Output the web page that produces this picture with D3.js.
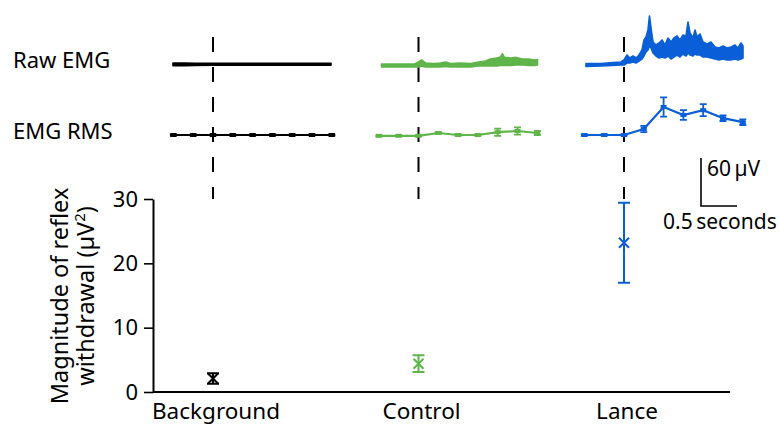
<!DOCTYPE html>
<html>
<head>
<meta charset="utf-8">
<script src="https://cdn.jsdelivr.net/npm/d3@7"></script>
<style>
  body { margin: 0; background: #fff; }
  text { font-family: "Noto Sans", "Open Sans", sans-serif; fill: #000; }
</style>
</head>
<body>
<script>
// categories and colours
const categories = ['Background', 'Control', 'Lance'];
const colors = ['#000000', '#5fb54a', '#0a5fd8'];

// reflex withdrawal magnitude (µV²), mean and error
const magnitudeMean = [2.1, 4.4, 23.2];
const magnitudeErr = [0.8, 1.3, 6.2];
const yTicks = [0, 10, 20, 30];

// EMG RMS (µV), time in s relative to stimulus
const rmsTimes = [-0.55, -0.275, 0, 0.275, 0.55, 0.825, 1.1, 1.375, 1.65];
const rmsBackground = [4, 4, 4, 4, 4, 4, 4, 4, 4];
const rmsBackgroundErr = [0.9, 0.9, 0.9, 0.9, 0.9, 0.9, 0.9, 0.9, 0.9];
const rmsControl = [3, 3, 3, 6.5, 4, 4, 7.5, 9, 6.5];
const rmsControlErr = [0.6, 0.6, 0.6, 1, 1, 1, 4.5, 4.5, 2.5];
const rmsLance = [4, 4, 4, 11.5, 39, 29, 35, 25, 20];
const rmsLanceErr = [0.6, 0.6, 0.6, 4, 12, 6, 7.5, 3.5, 3.5];

// raw EMG envelope: [time s, upper µV, lower µV]
const rawBackground = [
  [-0.556, 2.5, -0.8], [-0.389, 2.5, -0.8], [-0.25, 2.2, -0.5], [0, 2.2, -0.3],
  [0.375, 2.2, -0.3], [0.792, 2, -0.3], [1.208, 2.2, -0.3], [1.639, 2, -0.3]
];
const rawControl = [
  [-0.514, 1.3, -2.5], [-0.25, 1.3, -2.5], [-0.056, 1.3, -2.5], [0, 3.8, -2.5],
  [0.042, 6.3, -1.3], [0.097, 2.5, -2.5], [0.208, 1.9, -2.5], [0.306, 2.5, -2.5],
  [0.375, 3.8, -1.9], [0.444, 1.9, -2.5], [0.583, 2.5, -2.5], [0.722, 1.9, -2.5],
  [0.833, 3.8, -1.3], [0.931, 5, -1.3], [1.0, 7.5, -1.3], [1.083, 8.8, -1.3],
  [1.139, 10, -0.6], [1.167, 14, -0.6], [1.194, 9.5, -0.6], [1.278, 8.8, -0.6],
  [1.361, 9.5, 0], [1.444, 7.5, 0], [1.528, 7.5, -0.6], [1.611, 6.3, -0.6],
  [1.653, 6.9, 0]
];
const rawLance = [
  [-0.528, 1.9, -1.9], [-0.319, 1.9, -1.3], [-0.153, 3.1, -0.6], [-0.042, 3.8, 0],
  [0, 6.3, 0], [0.042, 12.5, 2.5], [0.083, 8.8, 2.5], [0.125, 11.3, 3.8],
  [0.167, 8.8, 2.5], [0.208, 12.5, 5], [0.25, 18.8, 7.5], [0.278, 31.3, 11.3],
  [0.306, 35, 16.3], [0.333, 43.8, 18.8], [0.354, 61.3, 23.8], [0.375, 46.3, 21.3],
  [0.403, 28.8, 15], [0.444, 25, 11.3], [0.486, 27.5, 8.8], [0.528, 31.3, 10],
  [0.569, 25, 8.8], [0.611, 33.8, 11.3], [0.653, 28.8, 7.5], [0.694, 33.8, 10],
  [0.736, 36.3, 12.5], [0.778, 31.3, 10], [0.819, 37.5, 13.8], [0.861, 36.3, 11.3],
  [0.889, 53.8, 15], [0.917, 40, 12.5], [0.958, 33.8, 11.3], [0.986, 43.8, 13.8],
  [1.014, 35, 12.5], [1.056, 38.8, 12.5], [1.097, 28.8, 10], [1.153, 26.3, 10],
  [1.208, 28.8, 8.8], [1.264, 22.5, 7.5], [1.319, 21.3, 6.3], [1.375, 23.8, 7.5],
  [1.431, 21.3, 6.3], [1.486, 22.5, 6.3], [1.542, 25, 7.5], [1.583, 21.3, 6.3],
  [1.625, 27.5, 7.5], [1.653, 23.8, 8.8]
];

const rawSeries = [rawBackground, rawControl, rawLance];
const rmsSeries = [rmsBackground, rmsControl, rmsLance];
const rmsErrSeries = [rmsBackgroundErr, rmsControlErr, rmsLanceErr];

// scale bar values
const barUv = 60;
const barSec = 0.5;

const width = 780;
const height = 426;
const svg = d3.select('body').append('svg')
  .attr('width', width)
  .attr('height', height);

// scales
const x = d3.scalePoint().domain(categories).range([213, 624]);
const y = d3.scaleLinear().domain([0, 30]).range([392, 199]);
const tSec = d3.scaleLinear().domain([0, 1]).range([0, 72]);      // px per second
const uv = d3.scaleLinear().domain([0, 60]).range([0, 48]);       // px per µV
const rawBase = 65;
const rmsBase = 138.2;

// row labels
svg.append('text').attr('x', 13).attr('y', 68).style('font-size', '22px').text('Raw EMG');
svg.append('text').attr('x', 13).attr('y', 139).style('font-size', '22px').text('EMG RMS');

// stimulus dashed lines
svg.append('g').selectAll('line')
  .data(categories)
  .join('line')
  .attr('x1', d => x(d)).attr('x2', d => x(d))
  .attr('y1', 37).attr('y2', 199)
  .attr('stroke', '#000')
  .attr('stroke-width', 2)
  .attr('stroke-dasharray', '15,15');

// raw EMG traces
const rawArea = d3.area()
  .x(d => d[0])
  .y0(d => d[2])
  .y1(d => d[1]);

categories.forEach((c, i) => {
  const pts = rawSeries[i].map(d => [
    x(c) + tSec(d[0]),
    rawBase - uv(d[1]),
    rawBase - uv(d[2])
  ]);
  svg.append('path')
    .attr('d', rawArea(pts))
    .attr('fill', colors[i])
    .attr('stroke', colors[i])
    .attr('stroke-width', 1.6)
    .attr('stroke-linejoin', 'round');
});

// EMG RMS traces
categories.forEach((c, i) => {
  const g = svg.append('g');
  const pts = rmsSeries[i].map((v, j) => ({
    x: x(c) + tSec(rmsTimes[j]),
    y: rmsBase - uv(v),
    e: uv(rmsErrSeries[i][j])
  }));
  g.append('path')
    .attr('d', d3.line().x(d => d.x).y(d => d.y)(pts))
    .attr('fill', 'none')
    .attr('stroke', colors[i])
    .attr('stroke-width', 2.2);
  g.selectAll('.eb')
    .data(pts)
    .join('path')
    .attr('d', d => `M${d.x},${d.y - d.e}V${d.y + d.e}M${d.x - 3.5},${d.y - d.e}H${d.x + 3.5}M${d.x - 3.5},${d.y + d.e}H${d.x + 3.5}`)
    .attr('fill', 'none')
    .attr('stroke', colors[i])
    .attr('stroke-width', 1.8);
  g.selectAll('rect')
    .data(pts)
    .join('rect')
    .attr('x', d => d.x - 3)
    .attr('y', d => d.y - 2)
    .attr('width', 6)
    .attr('height', 4)
    .attr('fill', colors[i]);
});

// scale bar
const sbX = 701;
const sbY = 206;
svg.append('path')
  .attr('d', `M${sbX},${sbY - uv(barUv)}V${sbY}H${sbX + tSec(barSec)}`)
  .attr('fill', 'none')
  .attr('stroke', '#000')
  .attr('stroke-width', 1.6);
svg.append('text').attr('x', sbX + 6).attr('y', 176).style('font-size', '21px').text(barUv + '\u2009µV');
svg.append('text').attr('x', 663).attr('y', 229).style('font-size', '21px').text(barSec + '\u2009seconds');

// y axis
const yAxis = svg.append('g')
  .attr('transform', 'translate(153,0)')
  .call(d3.axisLeft(y).tickValues(yTicks).tickSize(9).tickSizeOuter(0).tickPadding(6));
yAxis.select('.domain').attr('stroke', '#000').attr('stroke-width', 2);
yAxis.selectAll('.tick line').attr('stroke', '#000').attr('stroke-width', 1.6);
yAxis.selectAll('.tick text')
  .style('font-size', '22px')
  .style('font-family', '"Noto Sans", sans-serif')
  .attr('fill', '#000');

// x axis line
svg.append('line')
  .attr('x1', 153).attr('x2', 730)
  .attr('y1', y(0)).attr('y2', y(0))
  .attr('stroke', '#000')
  .attr('stroke-width', 2);

svg.append('g').selectAll('text')
  .data(categories)
  .join('text')
  .attr('x', d => x(d) + 3)
  .attr('y', 419)
  .attr('text-anchor', 'middle')
  .style('font-size', '22.5px')
  .text(d => d);

// y title
const yTitle = svg.append('text')
  .attr('transform', 'translate(68,296) rotate(-90)')
  .attr('text-anchor', 'middle')
  .style('font-size', '23.5px');
yTitle.append('tspan').attr('x', 0).attr('dy', 0).text('Magnitude of reflex');
const line2 = yTitle.append('tspan').attr('x', 0).attr('dy', 26);
line2.append('tspan').text('withdrawal (µV');
line2.append('tspan').attr('dy', -9).style('font-size', '15px').text('2');
line2.append('tspan').attr('dy', 9).text(')');

// magnitude points with error bars
const pg = svg.append('g');
categories.forEach((c, i) => {
  const cx = x(c);
  const cy = y(magnitudeMean[i]);
  const top = y(magnitudeMean[i] + magnitudeErr[i]);
  const bot = y(magnitudeMean[i] - magnitudeErr[i]);
  pg.append('path')
    .attr('d', `M${cx},${top}V${bot}M${cx - 6},${top}H${cx + 6}M${cx - 6},${bot}H${cx + 6}`)
    .attr('fill', 'none')
    .attr('stroke', colors[i])
    .attr('stroke-width', 2);
  pg.append('path')
    .attr('d', `M${cx - 5},${cy - 5}L${cx + 5},${cy + 5}M${cx - 5},${cy + 5}L${cx + 5},${cy - 5}`)
    .attr('stroke', colors[i])
    .attr('stroke-width', 2);
});
</script>
</body>
</html>
